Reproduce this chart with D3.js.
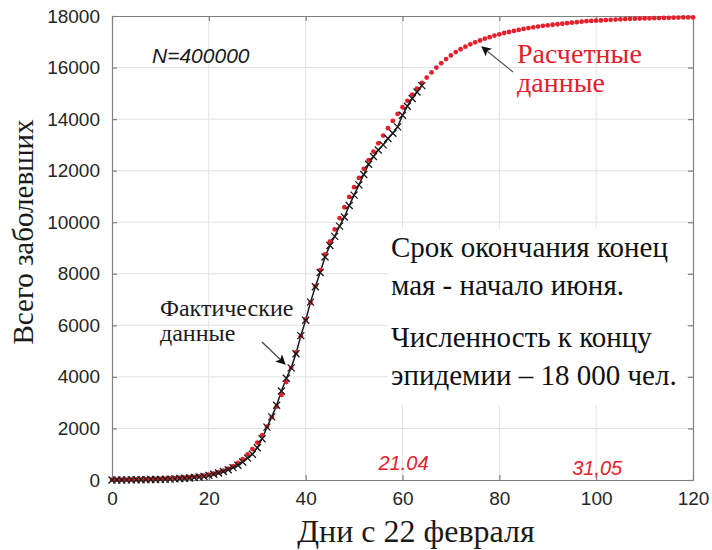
<html>
  <head>
    <meta charset="utf-8">
    <title>Всего заболевших</title>
    <script src="https://d3js.org/d3.v7.min.js"></script>
  </head>

  <style>
    body {
        margin: 0px;
        padding: 0px;
        background: #ffffff;
    }
    .axis .tick text {
        font-family: "Liberation Sans", Arial, sans-serif;
        font-size: 19px;
        fill: #262626;
    }
  </style>
  <body>
    <svg id="chart" width="712" height="550"></svg>
  </body>

  <script>

    // model curve (red dots), one value per day from day 0
    var modelValues = [
        10, 12, 14, 16, 19, 22, 25, 29, 33, 38,
        44, 51, 59, 68, 79, 92, 106, 123, 143, 166,
        210, 250, 300, 360, 440, 540, 660, 810, 990, 1200,
        1450, 1740, 2070, 2440, 2850, 3300, 3800, 4350, 4950, 5580,
        6230, 6880, 7520, 8140, 8750, 9250, 9720, 10160, 10580, 10980,
        11360, 11720, 12070, 12410, 12740, 13060, 13360, 13650, 13930, 14200,
        14460, 14710, 14950, 15180, 15400, 15610, 15810, 16000, 16170, 16330,
        16470, 16600, 16710, 16810, 16900, 16980, 17050, 17120, 17180, 17240,
        17290, 17340, 17380, 17420, 17460, 17500, 17530, 17560, 17590, 17620,
        17640, 17660, 17680, 17700, 17720, 17740, 17760, 17780, 17800, 17810,
        17820, 17830, 17840, 17850, 17860, 17870, 17880, 17890, 17895, 17900,
        17905, 17910, 17915, 17920, 17925, 17930, 17935, 17940, 17943, 17946,
        17950
    ];

    // reported cases (black crosses), one value per day from day 0
    var factValues = [
        2, 3, 3, 4, 6, 8, 10, 13, 17, 20,
        25, 30, 35, 45, 55, 65, 80, 95, 115, 140,
        180, 220, 270, 330, 400, 480, 570, 700, 850, 1000,
        1250, 1600, 2050, 2450, 2900, 3450, 3950, 4350, 4900, 5600,
        6200, 6900, 7500, 8050, 8650, 9100, 9450, 9850, 10200, 10650,
        11050, 11450, 11850, 12250, 12550, 12800, 13000, 13250, 13450, 13700,
        14150, 14500, 14800, 15050, 15300
    ];

    var xTicks = [0, 20, 40, 60, 80, 100, 120];
    var yTicks = [0, 2000, 4000, 6000, 8000, 10000, 12000, 14000, 16000, 18000];

    var noteLines = ["Срок окончания конец", "мая - начало июня.", "Численность к концу", "эпидемии – 18 000 чел."];
    var dateLabels = [{day: 60, text: "21.04"}, {day: 100, text: "31,05"}];

    var red = "#e5202b";
    var serif = "'Liberation Serif', 'Times New Roman', serif";
    var sans = "'Liberation Sans', Arial, sans-serif";

    var svg = d3.select("#chart");

    var x = d3.scaleLinear().domain([0, 120]).range([112, 693]);
    var y = d3.scaleLinear().domain([0, 18000]).range([480, 16]);

    // grid
    svg.append("g").selectAll("line").data(xTicks.slice(1, -1)).join("line")
        .attr("x1", (d) => x(d)).attr("x2", (d) => x(d))
        .attr("y1", y(0)).attr("y2", y(18000))
        .attr("stroke", "#e2e2e2").attr("stroke-width", 1);
    svg.append("g").selectAll("line").data(yTicks.slice(1, -1)).join("line")
        .attr("x1", x(0)).attr("x2", x(120))
        .attr("y1", (d) => y(d)).attr("y2", (d) => y(d))
        .attr("stroke", "#e2e2e2").attr("stroke-width", 1);

    // white box under the note
    svg.append("rect")
        .attr("x", 388).attr("y", 229).attr("width", 298).attr("height", 176)
        .attr("fill", "#ffffff");

    // axes with inner ticks
    var frame = "#808080";
    svg.append("g").attr("class", "axis")
        .attr("transform", "translate(0," + y(0) + ")")
        .call(d3.axisBottom(x).tickValues(xTicks).tickSizeInner(-5).tickSizeOuter(0).tickPadding(12));
    svg.append("g").attr("class", "axis")
        .attr("transform", "translate(" + x(0) + ",0)")
        .call(d3.axisLeft(y).tickValues(yTicks).tickFormat(d3.format("d")).tickSizeInner(-5).tickSizeOuter(0).tickPadding(12));
    svg.append("g").attr("class", "axis")
        .attr("transform", "translate(0," + y(18000) + ")")
        .call(d3.axisTop(x).tickValues(xTicks).tickSizeInner(-5).tickSizeOuter(0).tickFormat(""));
    svg.append("g").attr("class", "axis")
        .attr("transform", "translate(" + x(120) + ",0)")
        .call(d3.axisRight(y).tickValues(yTicks).tickSizeInner(-5).tickSizeOuter(0).tickFormat(""));
    svg.selectAll(".axis path, .axis line").attr("stroke", frame).attr("stroke-width", 1.2);
    svg.selectAll(".axis").attr("font-size", null).attr("font-family", null);

    // reported data: black line and crosses
    var line = d3.line().x((d, i) => x(i)).y((d) => y(d));
    svg.append("path").datum(factValues)
        .attr("d", line)
        .attr("fill", "none")
        .attr("stroke", "#1a1a1a")
        .attr("stroke-width", 1.5);

    // model: red dots
    svg.append("g").selectAll("circle").data(modelValues).join("circle")
        .attr("cx", (d, i) => x(i))
        .attr("cy", (d) => y(d))
        .attr("r", 2.4)
        .attr("fill", red);

    svg.append("g").selectAll("path").data(factValues).join("path")
        .attr("transform", (d, i) => "translate(" + x(i) + "," + y(d) + ")")
        .attr("d", "M-3.5,-3.5L3.5,3.5M-3.5,3.5L3.5,-3.5")
        .attr("stroke", "#1a1a1a")
        .attr("stroke-width", 1.3);

    // axis titles
    svg.append("text")
        .attr("transform", "translate(33,232) rotate(-90)")
        .attr("text-anchor", "middle")
        .style("font-family", serif).style("font-size", "29px")
        .attr("fill", "#1a1a1a")
        .text("Всего заболевших");
    svg.append("text")
        .attr("x", 416).attr("y", 542)
        .attr("text-anchor", "middle")
        .style("font-family", serif).style("font-size", "32px")
        .attr("fill", "#1a1a1a")
        .text("Дни с 22 февраля");

    // annotations
    svg.append("text")
        .attr("x", 152).attr("y", 63)
        .style("font-family", sans).style("font-size", "21px").style("font-style", "italic")
        .attr("fill", "#1a1a1a")
        .text("N=400000");

    svg.append("text")
        .attr("x", 160).attr("y", 316)
        .style("font-family", serif).style("font-size", "24px")
        .attr("fill", "#1a1a1a")
        .text("Фактические");
    svg.append("text")
        .attr("x", 160).attr("y", 341)
        .style("font-family", serif).style("font-size", "24px")
        .attr("fill", "#1a1a1a")
        .text("данные");

    svg.append("text")
        .attr("x", 517).attr("y", 63)
        .style("font-family", serif).style("font-size", "28px")
        .attr("fill", red)
        .text("Расчетные");
    svg.append("text")
        .attr("x", 517).attr("y", 92)
        .style("font-family", serif).style("font-size", "28px")
        .attr("fill", red)
        .text("данные");

    var defs = svg.append("defs");
    defs.append("marker").attr("id", "head")
        .attr("viewBox", "0 0 10 10").attr("refX", 9).attr("refY", 5)
        .attr("markerWidth", 10).attr("markerHeight", 10)
        .attr("markerUnits", "userSpaceOnUse")
        .attr("orient", "auto")
        .append("path").attr("d", "M0,0L10,5L0,10L2.5,5Z").attr("fill", "#111");

    svg.append("line")
        .attr("x1", 262).attr("y1", 342).attr("x2", 285).attr("y2", 364)
        .attr("stroke", "#444").attr("stroke-width", 1.2)
        .attr("marker-end", "url(#head)");
    svg.append("line")
        .attr("x1", 513).attr("y1", 72).attr("x2", 482).attr("y2", 47)
        .attr("stroke", "#555").attr("stroke-width", 1.2)
        .attr("marker-end", "url(#head)");

    svg.append("g").selectAll("text").data(noteLines).join("text")
        .attr("x", 391)
        .attr("y", (d, i) => [257, 295, 347, 385][i])
        .style("font-family", serif).style("font-size", "29px")
        .attr("fill", "#111")
        .text((d) => d);

    svg.append("g").selectAll("text").data(dateLabels).join("text")
        .attr("x", (d) => x(d.day) - 24)
        .attr("y", (d, i) => 470 + i * 5)
        .style("font-family", sans).style("font-size", "20px").style("font-style", "italic")
        .attr("fill", red)
        .text((d) => d.text);

  </script>

</html>
